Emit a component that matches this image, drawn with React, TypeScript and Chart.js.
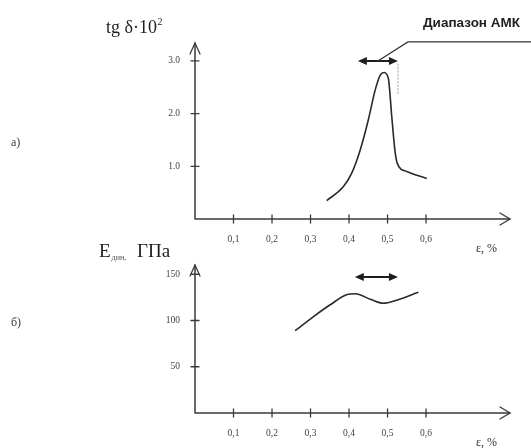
import { useEffect, useRef } from "react";
import { Chart, registerables } from "chart.js";

Chart.register(...registerables);

// ---- data ----
const xTickValues = [0.1, 0.2, 0.3, 0.4, 0.5, 0.6];
const xTickLabels = ["0,1", "0,2", "0,3", "0,4", "0,5", "0,6"];

const yTickValuesA = [1, 2, 3];
const yTickLabelsA = ["1.0", "2.0", "3.0"];
const yTickValuesB = [50, 100, 150];
const yTickLabelsB = ["50", "100", "150"];

// (a) loss tangent tg δ·10² vs strain ε, %
const epsA = [0.342, 0.385, 0.407, 0.429, 0.45, 0.468, 0.481, 0.491, 0.502, 0.511, 0.519, 0.525, 0.55, 0.602];
const tgDelta = [0.35, 0.61, 0.87, 1.31, 1.88, 2.45, 2.73, 2.78, 2.67, 1.94, 1.31, 1.06, 0.9, 0.77];

// (б) dynamic modulus E, GPa vs strain ε, %
const epsB = [0.26, 0.307, 0.351, 0.395, 0.416, 0.455, 0.489, 0.524, 0.58];
const eDyn = [89, 104, 117, 128, 129, 123, 118.6, 122, 130.5];

// AMK range (ε, %)
const amkRangeA = [0.423, 0.527];
const amkRangeB = [0.415, 0.527];
const amkLevelA = 3.0;
const amkLevelB = 147;

const INK = "#2a2a2a";
const AXIS = "#3a3a3a";
const LABEL = "#3f3f3f";
const SERIF = '"Liberation Serif", "DejaVu Serif", serif';
const SANS = '"Liberation Sans", Arial, sans-serif';

type PanelCfg = {
  yTicks: number[];
  yLabels: string[];
  range: number[];
  level: number;
  extra: (ctx: CanvasRenderingContext2D, chart: any) => void;
};

function openHead(ctx: CanvasRenderingContext2D, pts: number[][]) {
  ctx.beginPath();
  ctx.moveTo(pts[0][0], pts[0][1]);
  ctx.lineTo(pts[1][0], pts[1][1]);
  ctx.lineTo(pts[2][0], pts[2][1]);
  ctx.stroke();
}

function solidHead(ctx: CanvasRenderingContext2D, x: number, y: number, dir: number) {
  ctx.beginPath();
  ctx.moveTo(x, y);
  ctx.lineTo(x - dir * 9, y - 4);
  ctx.lineTo(x - dir * 9, y + 4);
  ctx.closePath();
  ctx.fill();
}

function makePlugin(cfg: PanelCfg) {
  return {
    id: "sketchAxes",
    afterDraw(chart: any) {
      const ctx: CanvasRenderingContext2D = chart.ctx;
      const xs = chart.scales.x;
      const ys = chart.scales.y;
      const x0 = xs.getPixelForValue(0);
      const y0 = ys.getPixelForValue(0);
      const xEnd = chart.chartArea.right;
      const yTop = chart.chartArea.top;
      ctx.save();
      ctx.strokeStyle = AXIS;
      ctx.lineWidth = 1.5;
      ctx.lineCap = "round";
      ctx.beginPath();
      ctx.moveTo(x0, y0);
      ctx.lineTo(xEnd, y0);
      ctx.moveTo(x0, y0);
      ctx.lineTo(x0, yTop);
      ctx.stroke();
      ctx.lineWidth = 1.3;
      openHead(ctx, [[xEnd - 10, y0 - 6], [xEnd, y0], [xEnd - 10, y0 + 6]]);
      openHead(ctx, [[x0 - 5, yTop + 11], [x0, yTop], [x0 + 5, yTop + 11]]);

      // x ticks
      ctx.lineWidth = 1.3;
      ctx.fillStyle = LABEL;
      ctx.font = `9.5px ${SERIF}`;
      ctx.textAlign = "center";
      ctx.textBaseline = "middle";
      xTickValues.forEach((v, i) => {
        const px = xs.getPixelForValue(v);
        ctx.beginPath();
        ctx.moveTo(px, y0 - 4);
        ctx.lineTo(px, y0 + 4);
        ctx.stroke();
        ctx.fillText(xTickLabels[i], px, y0 + 20);
      });
      // y ticks
      ctx.textAlign = "right";
      cfg.yTicks.forEach((v, i) => {
        const py = ys.getPixelForValue(v);
        ctx.beginPath();
        ctx.moveTo(x0 - 4, py);
        ctx.lineTo(x0 + 4, py);
        ctx.stroke();
        ctx.fillText(cfg.yLabels[i], x0 - 15, py);
      });

      // AMK double arrow
      const ax1 = xs.getPixelForValue(cfg.range[0]);
      const ax2 = xs.getPixelForValue(cfg.range[1]);
      const ay = ys.getPixelForValue(cfg.level);
      ctx.strokeStyle = "#1e1e1e";
      ctx.fillStyle = "#1e1e1e";
      ctx.lineWidth = 2;
      ctx.beginPath();
      ctx.moveTo(ax1 + 4, ay);
      ctx.lineTo(ax2 - 4, ay);
      ctx.stroke();
      solidHead(ctx, ax1, ay, -1);
      solidHead(ctx, ax2, ay, 1);

      // epsilon label
      ctx.fillStyle = "#2e2e2e";
      ctx.textAlign = "left";
      ctx.textBaseline = "alphabetic";
      ctx.font = `12px ${SERIF}`;
      ctx.fillText("ε, %", xEnd - 34, y0 + 33);

      cfg.extra(ctx, chart);
      ctx.restore();
    },
  };
}

function extraA(ctx: CanvasRenderingContext2D, chart: any) {
  const xs = chart.scales.x;
  const ys = chart.scales.y;
  const ax2 = xs.getPixelForValue(amkRangeA[1]);
  const ay = ys.getPixelForValue(amkLevelA);
  const mid = xs.getPixelForValue((amkRangeA[0] + amkRangeA[1]) / 2);
  // leader line
  ctx.strokeStyle = "#333";
  ctx.lineWidth = 1.2;
  ctx.beginPath();
  ctx.moveTo(mid, ay);
  ctx.lineTo(mid + 30, ay - 19);
  ctx.lineTo(chart.width, ay - 19);
  ctx.stroke();
  // dotted guide
  ctx.strokeStyle = "#aaa";
  ctx.lineWidth = 1;
  ctx.setLineDash([1.5, 2]);
  ctx.beginPath();
  ctx.moveTo(ax2, ay + 3);
  ctx.lineTo(ax2, ay + 34);
  ctx.stroke();
  ctx.setLineDash([]);

  ctx.fillStyle = "#1e1e1e";
  ctx.textAlign = "left";
  ctx.textBaseline = "alphabetic";
  ctx.font = `bold 13.5px ${SANS}`;
  ctx.fillText("Диапазон АМК", 423, 27);

  ctx.font = `18px ${SERIF}`;
  ctx.fillText("tg δ·10", 106, 33);
  const w = ctx.measureText("tg δ·10").width;
  ctx.font = `10px ${SERIF}`;
  ctx.fillText("2", 106 + w + 0.5, 25);

  ctx.font = `12px ${SERIF}`;
  ctx.fillStyle = "#3a3a3a";
  ctx.fillText("а)", 11, 146);
}

function extraB(ctx: CanvasRenderingContext2D, chart: any) {
  ctx.fillStyle = "#1e1e1e";
  ctx.textAlign = "left";
  ctx.textBaseline = "alphabetic";
  ctx.font = `19px ${SERIF}`;
  ctx.fillText("E", 99, 257);
  const w = ctx.measureText("E").width;
  ctx.font = `8px ${SERIF}`;
  ctx.fillStyle = "#555";
  ctx.fillText("дин,", 99 + w + 1, 260);
  ctx.fillStyle = "#1e1e1e";
  ctx.font = `19px ${SERIF}`;
  ctx.fillText("ГПа", 137, 257);

  ctx.font = `12px ${SERIF}`;
  ctx.fillStyle = "#3a3a3a";
  ctx.fillText("б)", 11, 326);
}

function Panel(props: {
  xs: number[];
  ys: number[];
  yMax: number;
  padTop: number;
  padBottom: number;
  cfg: PanelCfg;
}) {
  const ref = useRef<HTMLCanvasElement | null>(null);
  useEffect(() => {
    if (!ref.current) return;
    const chart = new Chart(ref.current, {
      type: "line",
      data: {
        datasets: [
          {
            data: props.xs.map((x, i) => ({ x, y: props.ys[i] })),
            borderColor: INK,
            borderWidth: 1.6,
            pointRadius: 0,
            fill: false,
            cubicInterpolationMode: "monotone",
          },
        ],
      },
      options: {
        animation: false,
        responsive: false,
        maintainAspectRatio: false,
        devicePixelRatio: 1,
        layout: { padding: { left: 195, right: 21, top: props.padTop, bottom: props.padBottom } },
        plugins: { legend: { display: false }, tooltip: { enabled: false } },
        scales: {
          x: { type: "linear", min: 0, max: 0.818, display: false },
          y: { type: "linear", min: 0, max: props.yMax, display: false },
        },
      },
      plugins: [makePlugin(props.cfg)],
    } as any);
    return () => chart.destroy();
  }, []);
  return (
    <canvas
      ref={ref}
      width={531}
      height={448}
      style={{ position: "absolute", left: 0, top: 0, width: 531, height: 448 }}
    />
  );
}

export default function App() {
  return (
    <div style={{ position: "absolute", left: 0, top: 0, width: 531, height: 448, background: "#fff" }}>
      <Panel
        xs={epsA}
        ys={tgDelta}
        yMax={3.34}
        padTop={43}
        padBottom={229}
        cfg={{ yTicks: yTickValuesA, yLabels: yTickLabelsA, range: amkRangeA, level: amkLevelA, extra: extraA }}
      />
      <Panel
        xs={epsB}
        ys={eDyn}
        yMax={160}
        padTop={265}
        padBottom={35}
        cfg={{ yTicks: yTickValuesB, yLabels: yTickLabelsB, range: amkRangeB, level: amkLevelB, extra: extraB }}
      />
    </div>
  );
}
